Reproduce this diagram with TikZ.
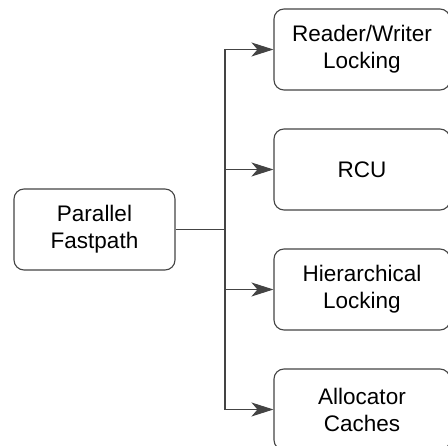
\documentclass[tikz,border=0pt]{standalone}
\usepackage{fontspec}
\setmainfont{Liberation Sans}
\usetikzlibrary{arrows.meta}
\definecolor{edge}{HTML}{444444}
\tikzset{
  box/.style={draw=edge, line width=1.1pt, rounded corners=10pt, minimum height=81pt,
    align=center, inner sep=0pt, font=\fontsize{22.5}{27}\selectfont},
  leftbox/.style={box, minimum width=161pt},
  rightbox/.style={box, minimum width=176pt},
  conn/.style={draw=edge, line width=1.1pt},
  arr/.style={conn, -{Stealth[length=22pt, width=14pt, inset=6pt]}}
}
\begin{document}
\begin{tikzpicture}[x=1pt,y=-1pt]
\useasboundingbox (0,0) rectangle (448,446);
\clip (0,0) rectangle (448,446);
\node[leftbox] (fp) at (94.5,229.5) {Parallel\\Fastpath};
\node[rightbox] (rw) at (362,49.5) {Reader/Writer\\Locking};
\node[rightbox] (rcu) at (362,169.5) {RCU};
\node[rightbox] (hl) at (362,289.5) {Hierarchical\\Locking};
\node[rightbox] (ac) at (362,409.5) {Allocator\\Caches};
\coordinate (j) at (225,229.5);
\draw[conn] (fp.east) -- (j);
\draw[arr] (j) |- (rw.west);
\draw[arr] (j) |- (rcu.west);
\draw[arr] (j) |- (hl.west);
\draw[arr] (j) |- (ac.west);
\end{tikzpicture}
\end{document}
